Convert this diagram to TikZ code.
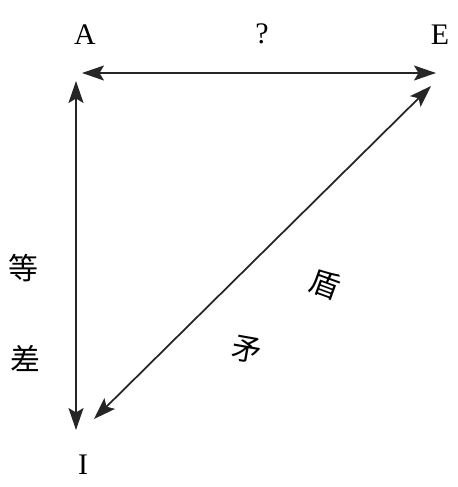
\documentclass[tikz,border=0pt]{standalone}
\usepackage{fontspec}
\setmainfont{Liberation Serif}
\newfontfamily\cjk{Noto Sans CJK SC}
\usetikzlibrary{arrows.meta}

\begin{document}
\begin{tikzpicture}[
    x=0.02cm, y=-0.02cm,
    >={Stealth[length=0.44cm,width=0.3cm,inset=0.09cm]},
    link/.style={<->, line width=1pt, black!85},
    corner/.style={font=\fontsize{17}{20}\selectfont, inner sep=0pt},
    word/.style={font=\cjk\fontsize{17}{20}\selectfont, inner sep=0pt}
  ]
  \useasboundingbox (0,0) rectangle (457,487);

  % corner letters
  \node[corner] (A) at (85,35) {A};
  \node[corner] (E) at (440,35) {E};
  \node[corner] (I) at (83,465) {I};
  \node[corner] (Q) at (262,34) {?};

  % arrow ends
  \coordinate (AE1) at (82,73);
  \coordinate (AE2) at (436,73);
  \coordinate (AI1) at (76,81);
  \coordinate (AI2) at (76,430);
  \coordinate (EI1) at (431,86);
  \coordinate (EI2) at (94,419);

  \draw[link] (AE1) -- (AE2);
  \draw[link] (AI1) -- (AI2);
  \draw[link] (EI1) -- (EI2);

  % side labels
  \node[word] (deng) at (23,268) {等};
  \node[word] (cha) at (25,358) {差};
  \node[word, rotate=-10] (mao) at (247,350) {矛};
  \node[word, rotate=-20] (dun) at (325,284) {盾};
\end{tikzpicture}
\end{document}
